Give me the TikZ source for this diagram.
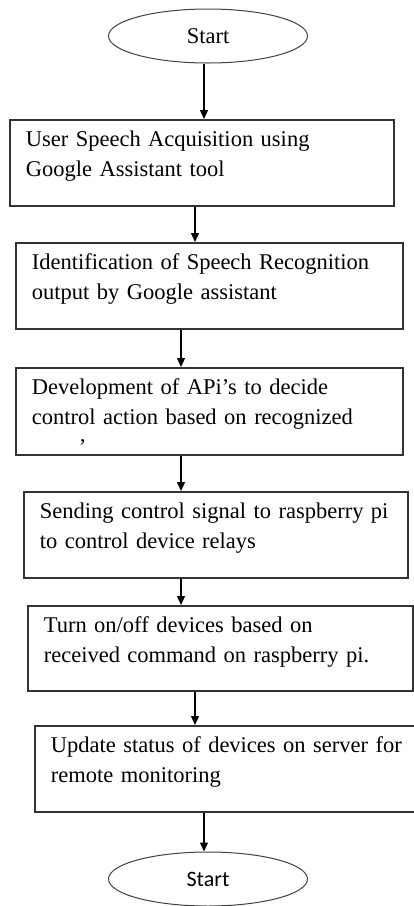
\documentclass[tikz,border=0pt]{standalone}
\usepackage{fontspec}
\setmainfont{Liberation Serif}
\newfontfamily\endfont{Carlito}
\usetikzlibrary{shapes.geometric,arrows.meta}
\begin{document}
\begin{tikzpicture}[x=1pt,y=-1pt,
		stepbox/.style={draw=black!80, line width=1.6pt, rectangle, anchor=north west,
			align=left, inner xsep=16pt, inner ysep=0pt, text height=27pt, text depth=59pt,
			font=\fontsize{22.5}{30}\selectfont},
		term/.style={draw=black!75, line width=1pt, ellipse, minimum width=199pt,
			minimum height=54pt, inner sep=0pt},
		arr/.style={-{Triangle[length=9pt,width=8pt]}, line width=1.4pt}]
	\useasboundingbox (0,0) rectangle (414,906);
	\clip (0,0) rectangle (414,906);
		\node[term, font=\fontsize{22.5}{24}\selectfont] (s1) at (208,36) {Start};
		\node[stepbox, text width=352pt] (b1) at (9,119)
			{User Speech Acquisition using\\Google Assistant tool};
		\node[stepbox, text width=355pt] (b2) at (15,242)
			{Identification of Speech Recognition\\output by Google assistant};
		\node[stepbox, text width=355pt, text depth=60pt] (b3) at (15,367)
			{Development of APi's to decide\\control action based on recognized\\\hspace*{47pt}'};
		\node[stepbox, text width=352pt] (b4) at (23,491)
			{Sending control signal to raspberry pi\\to control device relays};
		\node[stepbox, text width=353pt, text depth=58pt] (b5) at (27,605)
			{Turn on/off devices based on\\received command on raspberry pi.};
		\node[stepbox, text width=356pt] (b6) at (34,725)
			{Update status of devices on server for\\remote monitoring};
		\node[term, font=\endfont\fontsize{22}{24}\selectfont] (s2) at (208,879) {Start};
	% columns of the arrows
		\coordinate (c1) at (204,0);
		\coordinate (c2) at (195,0);
		\coordinate (c3) at (181,0);
		\draw[arr] (s1.south -| c1) -- (b1.north -| c1);
		\draw[arr] (b1.south -| c2) -- (b2.north -| c2);
		\draw[arr] (b2.south -| c3) -- (b3.north -| c3);
		\draw[arr] (b3.south -| c3) -- (b4.north -| c3);
		\draw[arr] (b4.south -| c3) -- (b5.north -| c3);
		\draw[arr] (b5.south -| c2) -- (b6.north -| c2);
		\draw[arr] (b6.south -| c1) -- (s2.north -| c1);
\end{tikzpicture}
\end{document}
